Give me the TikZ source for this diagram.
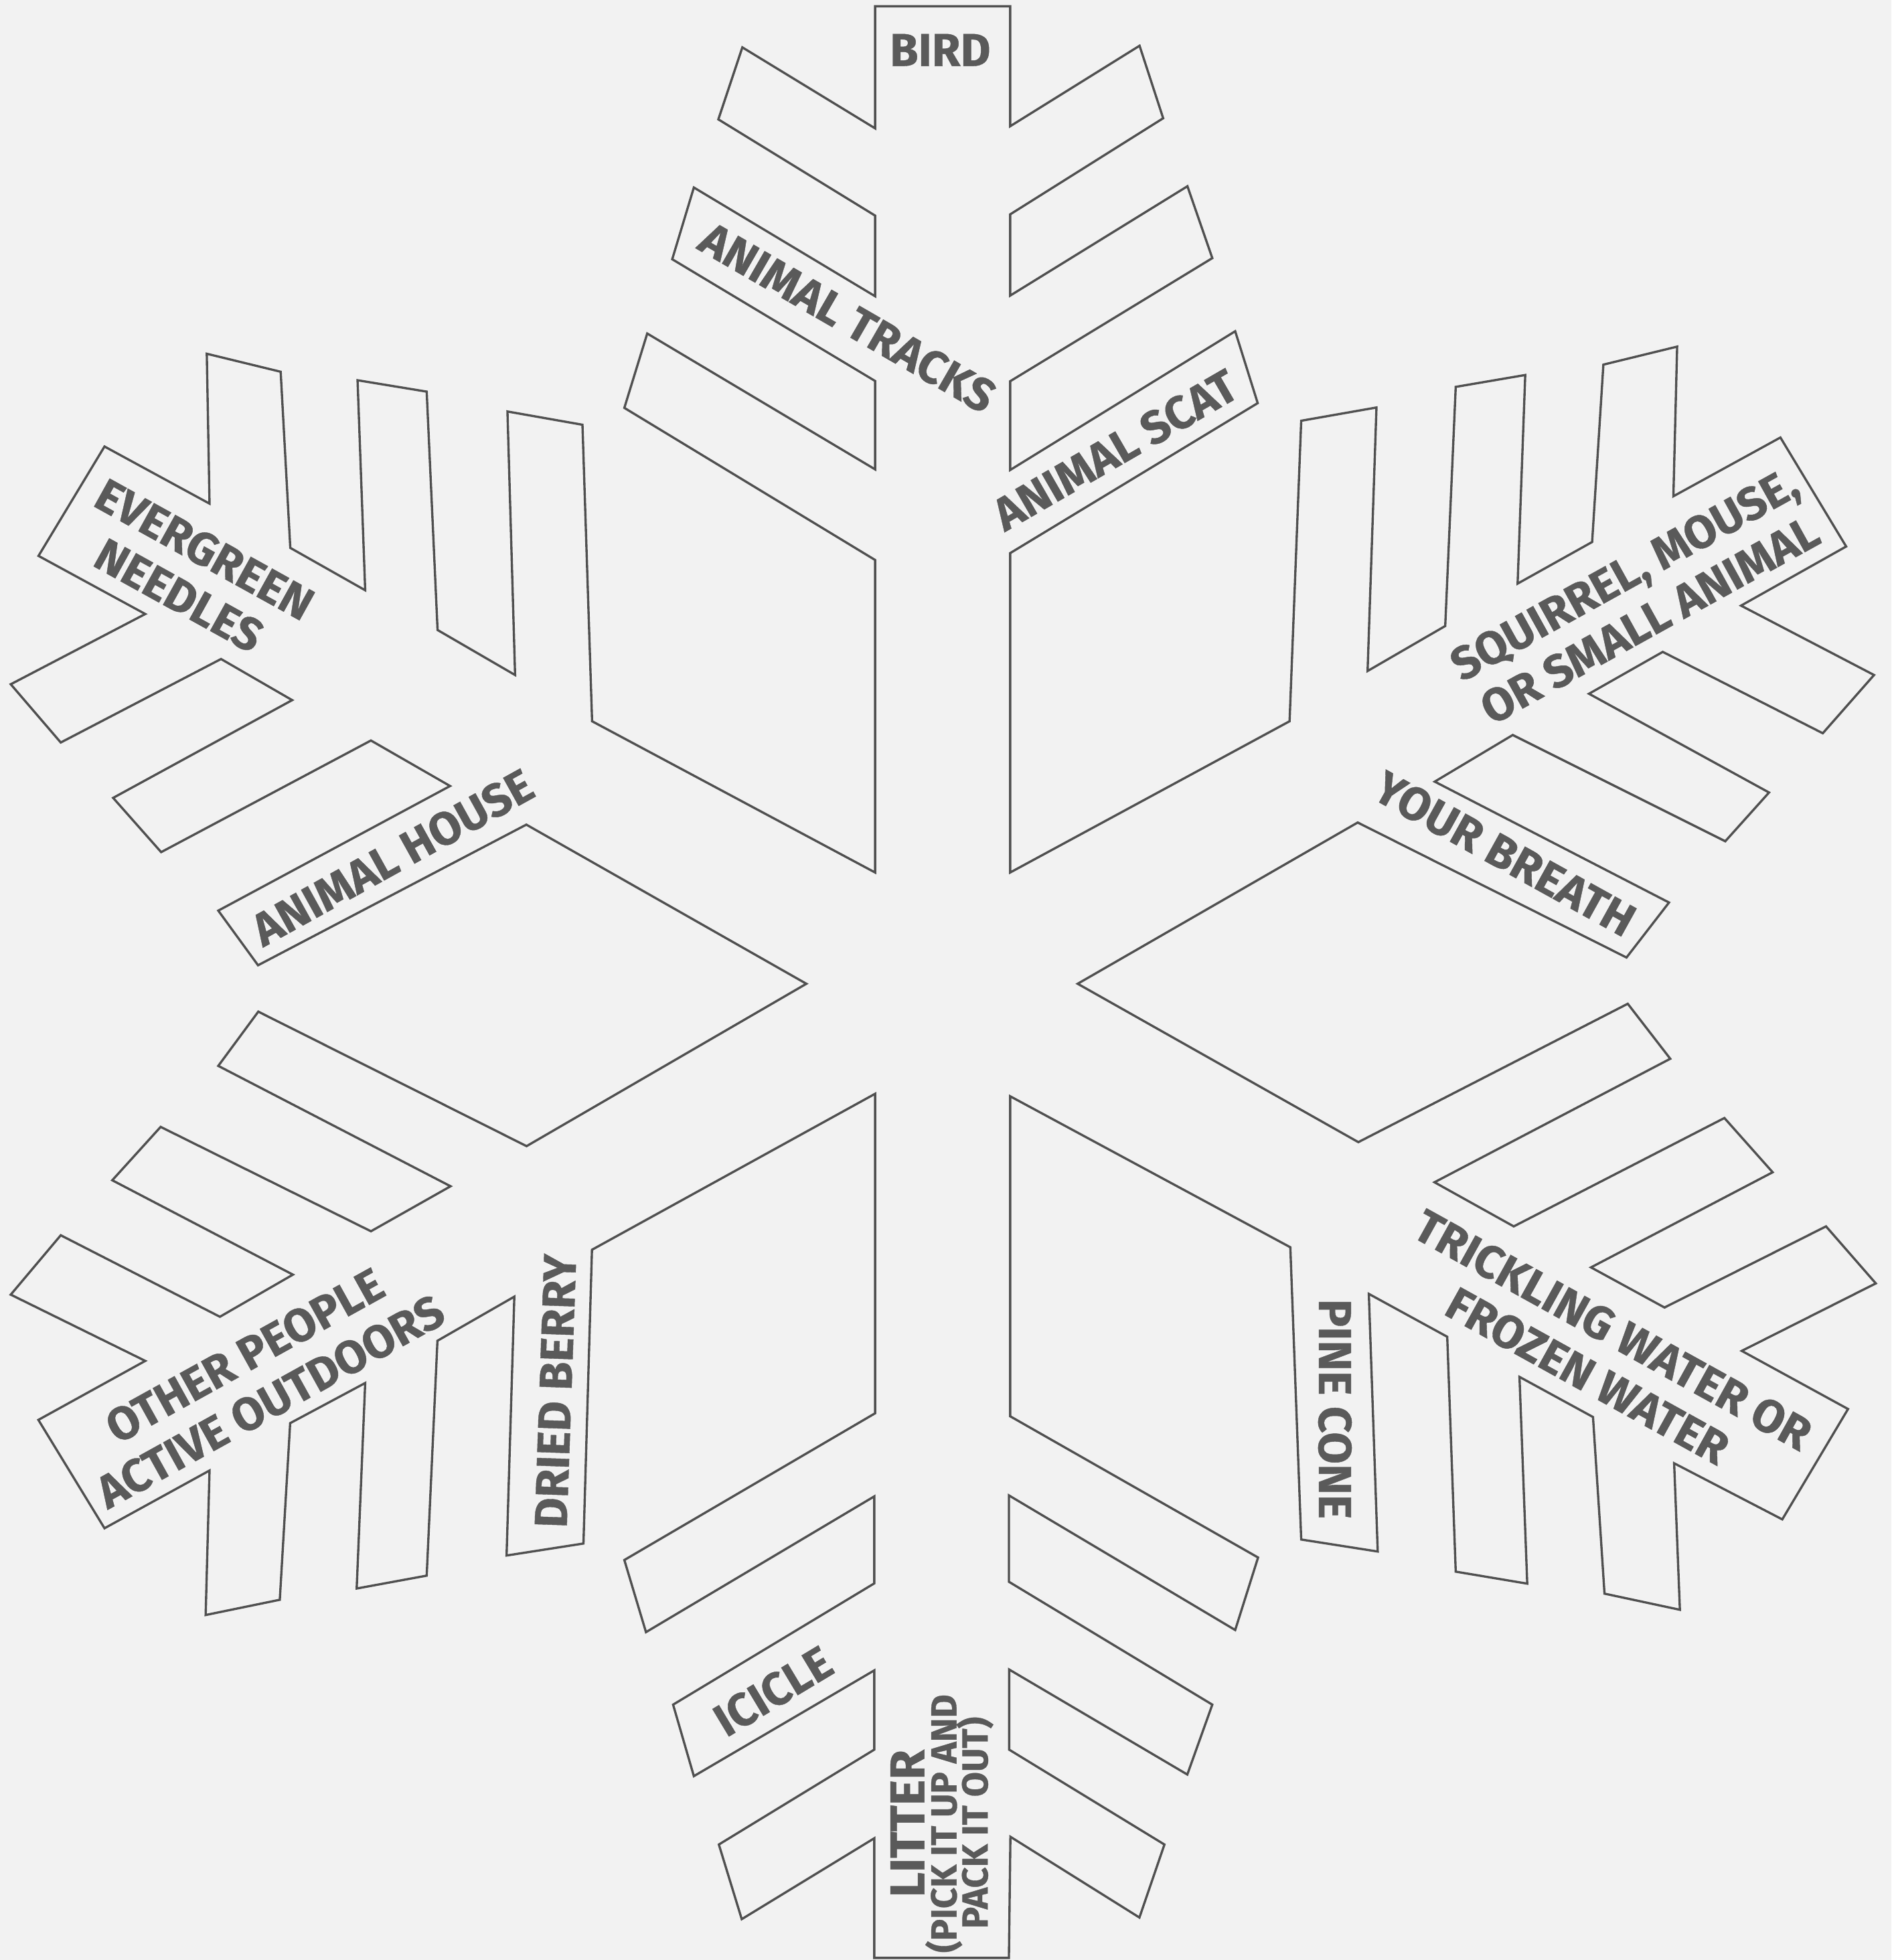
\documentclass[tikz,border=0pt]{standalone}
\usepackage{fontspec}
\setmainfont{Fira Sans}
\newfontfamily\lblfont{Fira Sans}[BoldFeatures={FakeBold=0.6}]
\definecolor{bg}{RGB}{242,242,242}
\definecolor{ink}{RGB}{80,80,80}
\definecolor{txt}{RGB}{90,90,90}
\begin{document}
\begin{tikzpicture}[x=1pt,y=-1pt,
  outline/.style={draw=ink,line width=1.8pt,line join=miter},
  lbl/.style={text=txt,font=\lblfont\bfseries\fontsize{37}{42}\selectfont,align=center,inner sep=0pt}]
\fill[bg] (0,0) rectangle (1513,1568);
\useasboundingbox (0,0) rectangle (1513,1568);
\draw[outline]
 (700,5) -- (808,5)
 -- (808,101) -- (911.5,36.6) -- (930.4,94.6) -- (808,171.5)
 -- (808,236.5) -- (949.8,149) -- (969.7,206.5) -- (808,305)
 -- (808,376) -- (988,265) -- (1006,322.5) -- (808,442.5)
 -- (808,698)
 -- (1031.5,577) -- (1040.8,336.6) -- (1101,326) -- (1093.9,536.8)
 -- (1156,500.8) -- (1164.4,309.5) -- (1220,300) -- (1213.9,466.9)
 -- (1273.5,433.6) -- (1282.5,291.7) -- (1341.5,277.3) -- (1338.5,397)
 -- (1424.1,350) -- (1476.7,437.2)
 -- (1392.6,484.5) -- (1499,540) -- (1458,586.6) -- (1330,521.5)
 -- (1271,555) -- (1415,634) -- (1380,673) -- (1210,588)
 -- (1147.6,625.3) -- (1335,722) -- (1301,766) -- (1086,658)
 -- (862,787)
 -- (1086.5,913.7) -- (1302,803) -- (1336,847) -- (1147.4,945.8)
 -- (1210.8,981.1) -- (1379.3,894.4) -- (1417.9,937.8) -- (1272.6,1013.9)
 -- (1331.4,1046) -- (1460.6,981.1) -- (1500.4,1026.7) -- (1393.2,1080.7)
 -- (1478.2,1127.2) -- (1425.6,1215.5)
 -- (1339.1,1170.6) -- (1343.7,1287.8) -- (1283.4,1274.9) -- (1274.2,1133.6)
 -- (1215.4,1101.5) -- (1221.6,1266.9) -- (1164.4,1257.3) -- (1157.6,1069.4)
 -- (1094.9,1035.1) -- (1102,1241.2) -- (1040.8,1231.6) -- (1032.1,997.8)
 -- (808,877)
 -- (808,1133) -- (1006.3,1246) -- (988,1304) -- (807,1196.3)
 -- (807,1265.4) -- (969.7,1363.7) -- (949.7,1419.6) -- (807.2,1335.6)
 -- (807.2,1399.7) -- (931.4,1475.6) -- (911.4,1534) -- (808.2,1469.4)
 -- (807,1566.3) -- (699.3,1566.3)
 -- (699.3,1470.6) -- (593.3,1535.3) -- (575,1475.6) -- (699.3,1399.7)
 -- (699.3,1336.3) -- (555,1420.9) -- (538.4,1363.7) -- (699.3,1266.7)
 -- (699.3,1197.1) -- (516.7,1305.7) -- (499.4,1248) -- (700,1130.6)
 -- (700,875)
 -- (473.5,999.8) -- (466.7,1234.8) -- (405.2,1244.4) -- (411.4,1037.3)
 -- (349.9,1072.6) -- (341.3,1260.5) -- (285.3,1270.8) -- (292.1,1106.4)
 -- (232.1,1138.5) -- (223.8,1279.8) -- (164.5,1292) -- (167.6,1176.4)
 -- (83.6,1222.6) -- (30.7,1135.9)
 -- (116.2,1088.7) -- (8.6,1035.7) -- (48.6,988.2) -- (175.9,1053.4)
 -- (234.3,1019.7) -- (89.8,944.2) -- (128.5,901.5) -- (296.7,985)
 -- (360.4,949) -- (174.6,852.7) -- (206.6,809.3) -- (421.2,916.9)
 -- (645,787)
 -- (421,659.7) -- (206.4,772.2) -- (174.6,728.5) -- (360,628.8)
 -- (296.7,592.4) -- (128.9,681.7) -- (90.5,638.3) -- (233.7,560.1)
 -- (176.8,527.2) -- (48.6,594) -- (8.6,547.4) -- (116.2,491.2)
 -- (30.8,444.7) -- (83.6,357.2)
 -- (167.6,402.9) -- (165.4,283) -- (224.5,297.4) -- (232.2,438.3)
 -- (292.1,472.2) -- (286,304.2) -- (341.3,313.3) -- (350,504)
 -- (412,540) -- (405.9,329.2) -- (465.9,339.8) -- (473.6,577)
 -- (700,698)
 -- (700,448) -- (499.4,326.3) -- (517.7,266.8) -- (700,375.5)
 -- (700,304.8) -- (537.7,207.4) -- (555,150) -- (700,237)
 -- (700,172.5) -- (574.6,95.5) -- (593.8,37.9) -- (700,102.7)
 -- cycle;

\node[lbl] (bird) at (752,40) {BIRD};
\node[lbl,rotate=-30] (tracks) at (678,254) {ANIMAL TRACKS};
\node[lbl,rotate=30] (scat) at (892,360) {ANIMAL SCAT};
\node[lbl,rotate=-29] (needles) at (153.4,457.9) {EVERGREEN\\NEEDLES};
\node[lbl,rotate=29] (house) at (314,686) {ANIMAL HOUSE};
\node[lbl,rotate=29] (squirrel) at (1309.4,477.5) {SQUIRREL, MOUSE,\\OR SMALL ANIMAL};
\node[lbl,rotate=-29] (breath) at (1203.7,683) {YOUR BREATH};
\node[lbl,rotate=29] (people) at (206,1102.8) {OTHER PEOPLE\\ACTIVE OUTDOORS};
\node[lbl,rotate=88] (berry) at (444.3,1112.8) {DRIED BERRY};
\node[lbl,rotate=-90] (pine) at (1067.8,1127.2) {PINE CONE};
\node[lbl,rotate=-29] (water) at (1280,1082.3) {TRICKLING WATER OR\\FROZEN WATER};
\node[lbl,rotate=31] (icicle) at (618.4,1353) {ICICLE};
\node[lbl,rotate=90,font=\lblfont\bfseries\fontsize{39}{40}\selectfont] (litter) at (725.8,1458.8) {LITTER};
\node[lbl,rotate=90,font=\lblfont\bfseries\fontsize{29}{30}\selectfont] (pick) at (754.9,1458.8) {(PICK IT UP AND};
\node[lbl,rotate=90,font=\lblfont\bfseries\fontsize{29}{30}\selectfont] (pack) at (779.8,1458.2) {PACK IT OUT)};
\end{tikzpicture}
\end{document}
